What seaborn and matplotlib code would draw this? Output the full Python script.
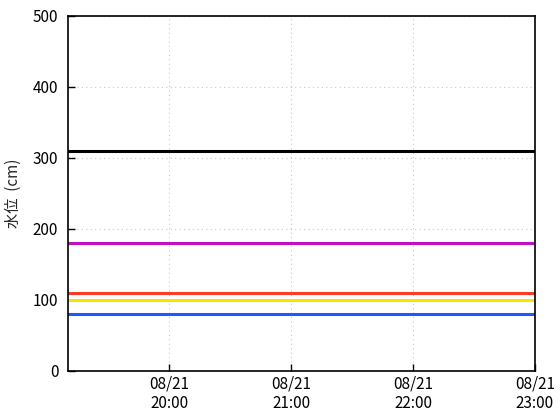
import pandas as pd
import matplotlib
matplotlib.use("Agg")
import matplotlib.pyplot as plt
import matplotlib.dates as mdates
import seaborn as sns

# observation window and threshold levels (cm)
times = ["2024-08-21 19:10", "2024-08-21 23:00"]
level_names = ["black", "magenta", "red", "yellow", "blue"]
level_values = [310, 180, 110, 100, 80]
level_colors = ["#000000", "#c010c0", "#ff3c28", "#f5e600", "#1e5aff"]

rows = []
for name, val in zip(level_names, level_values):
    for t in times:
        rows.append({"time": pd.Timestamp(t), "level": val, "name": name})
df = pd.DataFrame(rows)

sns.set_theme(style="white")
plt.rcParams["font.family"] = ["Noto Sans CJK JP", "DejaVu Sans"]

fig = plt.figure(figsize=(5.6, 4.2), dpi=100)
ax = fig.add_axes([0.1214, 0.1167, 0.8336, 0.8453])

sns.lineplot(data=df, x="time", y="level", hue="name",
             palette=dict(zip(level_names, level_colors)),
             linewidth=2.2, legend=False, ax=ax)

ax.set_xlim(pd.Timestamp(times[0]), pd.Timestamp(times[1]))
ax.set_ylim(0, 500)
ax.set_yticks([0, 100, 200, 300, 400, 500])
ax.xaxis.set_major_locator(mdates.HourLocator())
ax.xaxis.set_major_formatter(mdates.DateFormatter("%m/%d\n%H:%M"))

ax.set_xlabel("")
ax.set_ylabel("水位  (cm)", fontsize=11, labelpad=8)
ax.grid(True, color="#c8c8c8", linestyle=(0, (1, 3)), linewidth=0.8)
for s in ax.spines.values():
    s.set_color("black")
    s.set_linewidth(1.2)
ax.tick_params(direction="in", length=5, width=1, colors="black",
               labelsize=11, left=True, bottom=True)
ax.tick_params(axis="x", pad=3)
ax.tick_params(axis="y", pad=7)

plt.savefig("out.png", dpi=100)
